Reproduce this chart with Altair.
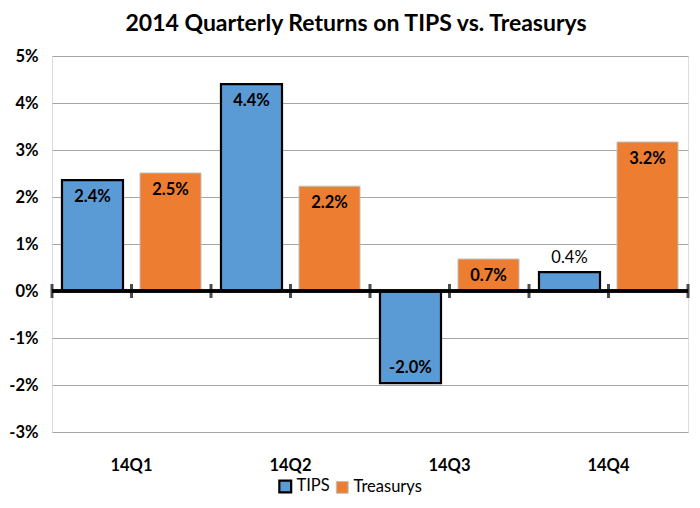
import altair as alt
import pandas as pd

quarters = ["14Q1", "14Q2", "14Q3", "14Q4"]
tips = [2.36, 4.40, -1.96, 0.40]
treasurys = [2.51, 2.23, 0.68, 3.17]
series = ["TIPS", "Treasurys"]
y_ticks = [-3, -2, -1, 0, 1, 2, 3, 4, 5]

rows = []
for q, a, b in zip(quarters, tips, treasurys):
    rows.append({"quarter": q, "series": "TIPS", "value": a})
    rows.append({"quarter": q, "series": "Treasurys", "value": b})
df = pd.DataFrame(rows)
qdf = pd.DataFrame({"quarter": quarters})
last_df = pd.DataFrame({"quarter": quarters[-1:]})

FONT = "Lato"
W, H = 636, 376

xenc = alt.X("quarter:N", sort=quarters,
             scale=alt.Scale(paddingInner=0, paddingOuter=0),
             axis=alt.Axis(title=None, domain=False, ticks=False, labelAngle=0,
                           labelFont=FONT, labelFontSize=16.5, labelFontWeight="bold",
                           labelColor="#000000", labelPadding=25))
yscale = alt.Scale(domain=[-3, 5], nice=False, zero=False)
yenc = alt.Y("value:Q", scale=yscale,
             axis=alt.Axis(title=None, values=y_ticks, domain=False, ticks=False,
                           labelExpr="datum.value + '%'", labelFont=FONT,
                           labelFontSize=16.5, labelFontWeight="bold",
                           labelColor="#000000", labelPadding=14,
                           gridColor="#A6A6A6", gridWidth=1))

xoff = alt.XOffset("series:N", sort=series,
                   scale=alt.Scale(paddingInner=0.218, paddingOuter=0.128))

bars = alt.Chart(df).mark_bar().encode(
    x=xenc,
    xOffset=xoff,
    y=yenc,
    y2=alt.datum(0),
    fill=alt.Fill("series:N", sort=series,
                  scale=alt.Scale(domain=series, range=["#5B9BD5", "#ED7D31"]),
                  legend=alt.Legend(title=None, orient="none", direction="horizontal",
                                    legendX=225, legendY=422, labelFont=FONT,
                                    labelFontSize=16.5, labelColor="#000000",
                                    symbolType="square", symbolSize=140,
                                    symbolStrokeWidth=2, columnPadding=4,
                                    labelOffset=3)),
    stroke=alt.Stroke("series:N", sort=series,
                      scale=alt.Scale(domain=series, range=["#000000", "#BFBFBF"])),
    strokeWidth=alt.StrokeWidth("series:N",
                                scale=alt.Scale(domain=series, range=[2.2, 1]),
                                legend=None),
)

base_text = alt.Chart(df).transform_calculate(
    label="replace(format(datum.value, '.1f'), '\u2212', '-') + '%'"
)

txt_in = base_text.transform_filter("datum.value > 0.5").mark_text(
    baseline="top", dy=9, font=FONT, fontSize=16.5, fontWeight="bold", color="#000000"
).encode(x=alt.X("quarter:N", sort=quarters), xOffset=xoff,
         y=alt.Y("value:Q", scale=yscale), text="label:N")

txt_neg = base_text.transform_filter("datum.value < 0").mark_text(
    baseline="bottom", dy=-7, font=FONT, fontSize=16.5, fontWeight="bold", color="#000000"
).encode(x=alt.X("quarter:N", sort=quarters), xOffset=xoff,
         y=alt.Y("value:Q", scale=yscale), text="label:N")

txt_out = base_text.transform_filter("datum.value >= 0 && datum.value <= 0.5").mark_text(
    baseline="bottom", dy=-6, font=FONT, fontSize=16.5, fontWeight="normal", color="#000000"
).encode(x=alt.X("quarter:N", sort=quarters), xOffset=xoff,
         y=alt.Y("value:Q", scale=yscale), text="label:N")

zero_line = alt.Chart(qdf).mark_rule(color="#000000", strokeWidth=3).encode(
    y=alt.datum(0)
)

tick_style = dict(color="#000000", orient="vertical", size=14, thickness=3)
ticks_left = alt.Chart(qdf).mark_tick(**tick_style).encode(
    x=alt.X("quarter:N", sort=quarters, bandPosition=0), y=alt.datum(0))
ticks_mid = alt.Chart(qdf).mark_tick(**tick_style).encode(
    x=alt.X("quarter:N", sort=quarters, bandPosition=0.5), y=alt.datum(0))
ticks_right = alt.Chart(last_df).mark_tick(**tick_style).encode(
    x=alt.X("quarter:N", sort=quarters, bandPosition=1), y=alt.datum(0))

chart = alt.layer(
    bars, zero_line, ticks_left, ticks_mid, ticks_right, txt_in, txt_neg, txt_out
).properties(
    width=W, height=H,
    title=alt.TitleParams("2014 Quarterly Returns on TIPS vs. Treasurys",
                          font=FONT, fontSize=23, fontWeight="bold",
                          color="#000000", anchor="middle", dx=-14, offset=12),
    autosize=alt.AutoSizeParams(type="none"),
    padding={"left": 44, "top": 48, "right": 4, "bottom": 68},
).configure_view(stroke=None).configure(background="#FFFFFF")

chart.save("out.html", embed_options={"renderer": "svg", "actions": False})
